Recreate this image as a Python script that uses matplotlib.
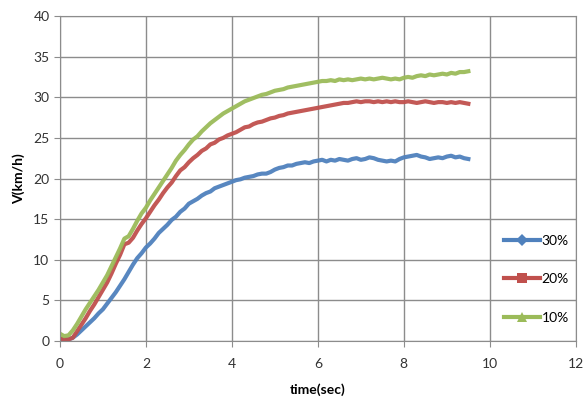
import numpy as np
import matplotlib
matplotlib.use("Agg")
import matplotlib.pyplot as plt
from matplotlib.lines import Line2D

# sampling grid (s)
time = np.round(np.arange(96) * 0.1, 1)

v30 = [0.3, 0.2, 0.2, 0.4, 0.8, 1.3, 1.8, 2.3, 2.8, 3.4,
       3.9, 4.6, 5.3, 6.0, 6.8, 7.6, 8.5, 9.4, 10.2, 10.8,
       11.5, 12.0, 12.6, 13.3, 13.8, 14.3, 14.9, 15.3, 15.9, 16.3,
       16.9, 17.2, 17.5, 17.9, 18.2, 18.4, 18.8, 19.0, 19.2, 19.4,
       19.6, 19.8, 19.9, 20.1, 20.2, 20.3, 20.5, 20.6, 20.6, 20.8,
       21.1, 21.3, 21.4, 21.6, 21.6, 21.8, 21.9, 22.0, 21.9, 22.1,
       22.2, 22.3, 22.1, 22.3, 22.2, 22.4, 22.3, 22.2, 22.4, 22.5,
       22.3, 22.4, 22.6, 22.5, 22.3, 22.2, 22.1, 22.2, 22.1, 22.4,
       22.6, 22.7, 22.8, 22.9, 22.7, 22.6, 22.4, 22.5, 22.6, 22.5,
       22.7, 22.8, 22.6, 22.7, 22.5, 22.4]

v20 = [0.3, 0.2, 0.2, 0.4, 1.2, 2.0, 2.8, 3.7, 4.5, 5.4,
       6.3, 7.2, 8.3, 9.5, 10.6, 11.9, 12.1, 12.7, 13.6, 14.4,
       15.1, 15.9, 16.7, 17.4, 18.2, 18.9, 19.5, 20.3, 21.0, 21.4,
       22.0, 22.5, 22.9, 23.4, 23.7, 24.2, 24.4, 24.8, 25.0, 25.3,
       25.5, 25.7, 26.0, 26.3, 26.4, 26.7, 26.9, 27.0, 27.2, 27.4,
       27.5, 27.7, 27.8, 28.0, 28.1, 28.2, 28.3, 28.4, 28.5, 28.6,
       28.7, 28.8, 28.9, 29.0, 29.1, 29.2, 29.3, 29.3, 29.4, 29.5,
       29.4, 29.5, 29.5, 29.4, 29.5, 29.4, 29.5, 29.4, 29.5, 29.4,
       29.4, 29.5, 29.4, 29.3, 29.4, 29.5, 29.4, 29.3, 29.4, 29.4,
       29.3, 29.4, 29.3, 29.4, 29.3, 29.2]

v10 = [0.9, 0.6, 0.7, 1.3, 2.1, 3.0, 3.9, 4.7, 5.5, 6.3,
       7.2, 8.1, 9.2, 10.3, 11.4, 12.6, 12.9, 13.8, 14.8, 15.7,
       16.4, 17.3, 18.1, 18.9, 19.7, 20.5, 21.3, 22.2, 22.9, 23.5,
       24.2, 24.8, 25.2, 25.8, 26.3, 26.8, 27.2, 27.6, 28.0, 28.3,
       28.6, 28.9, 29.2, 29.5, 29.7, 29.9, 30.1, 30.3, 30.4, 30.6,
       30.8, 30.9, 31.0, 31.2, 31.3, 31.4, 31.5, 31.6, 31.7, 31.8,
       31.9, 32.0, 32.0, 32.1, 32.0, 32.2, 32.1, 32.2, 32.1, 32.2,
       32.3, 32.2, 32.3, 32.2, 32.3, 32.4, 32.3, 32.2, 32.3, 32.2,
       32.4, 32.5, 32.4, 32.6, 32.7, 32.6, 32.8, 32.7, 32.8, 32.9,
       32.8, 33.0, 32.9, 33.1, 33.1, 33.2]

labels = ["30%", "20%", "10%"]
colors = ['#4F81BD', '#C0504D', '#9BBB59']
markers = ['D', 's', '^']

plt.rcParams['font.family'] = ['Lato', 'DejaVu Sans']

fig = plt.figure(figsize=(5.87, 4.0), dpi=100)
ax = fig.add_axes([0.102, 0.1475, 0.879, 0.8125])

for v, c in zip([v30, v20, v10], colors):
    ax.plot(time, v, color=c, lw=3.0, alpha=0.95, solid_joinstyle='round')

ax.set_xlim(0, 12)
ax.set_ylim(0, 40)
ax.set_xticks(np.arange(0, 13, 2))
ax.set_yticks(np.arange(0, 41, 5))
ax.grid(True, color='#8c8c8c', lw=1)
ax.set_axisbelow(True)
for s in ax.spines.values():
    s.set_color('#8c8c8c')
ax.tick_params(colors='#8c8c8c', labelcolor='#333333', labelsize=10, length=4)
ax.tick_params(axis='x', pad=8)

ax.set_ylabel('V(km/h)', fontsize=10, fontweight='bold', labelpad=6)
ax.set_xlabel('time(sec)', fontsize=10, fontweight='bold', labelpad=10)

handles = [Line2D([], [], color=c, lw=3, marker=m, ms=m == 's' and 7 or 6.5, mew=0)
           for c, m in zip(colors, markers)]
ax.legend(handles, labels, loc='center right', bbox_to_anchor=(1.0, 0.19), frameon=False,
          fontsize=10, labelspacing=1.9, handlelength=2.6,
          handletextpad=0.1, borderaxespad=0.1)

fig.savefig('out.png', dpi=100)
